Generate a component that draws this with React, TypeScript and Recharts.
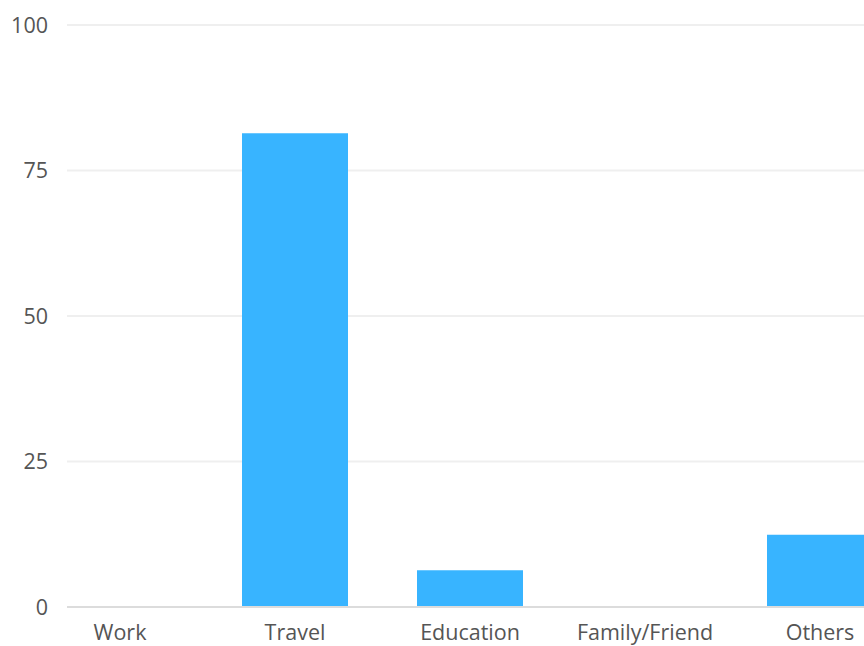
import { BarChart, Bar, XAxis, YAxis, CartesianGrid } from 'recharts';

const categories = ['Work', 'Travel', 'Education', 'Family/Friend', 'Others'];
const shares = [0, 81.4, 6.3, 0, 12.4];
const yTicks = [0, 25, 50, 75, 100];

const data = categories.map((name, i) => ({ name, value: shares[i] }));

const FONT = '"Open Sans", sans-serif';

export default function App() {
  return (
    <div style={{ position: 'absolute', left: 0, top: 0, width: 864, height: 646, overflow: 'hidden', background: '#fff' }}>
      <BarChart
        width={873}
        height={646}
        data={data}
        margin={{ top: 25, right: 0, bottom: 0, left: 0 }}
        barCategoryGap={34.5}
      >
        <CartesianGrid vertical={false} stroke="#efefef" strokeWidth={2} />
        <XAxis
          dataKey="name"
          height={39}
          padding={{ left: -34.5, right: -34.5 }}
          tickLine={false}
          tickSize={0}
          tickMargin={18}
          axisLine={{ stroke: '#dcdcdc', strokeWidth: 2 }}
          tick={{ fill: '#555', fontSize: 21.5, fontFamily: FONT }}
          interval={0}
        />
        <YAxis
          width={67}
          domain={[0, 100]}
          ticks={yTicks}
          axisLine={false}
          tickLine={false}
          tickSize={0}
          tickMargin={19}
          tick={{ fill: '#555', fontSize: 21.5, fontFamily: FONT }}
        />
        <Bar dataKey="value" fill="#38b4ff" isAnimationActive={false} />
      </BarChart>
    </div>
  );
}
